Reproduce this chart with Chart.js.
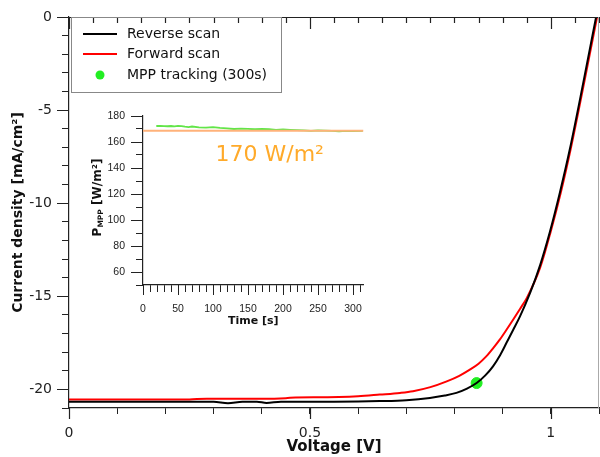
<!DOCTYPE html>
<html>
<head>
<meta charset="utf-8">
<title>J-V curve with MPP tracking</title>
<script src="https://cdn.jsdelivr.net/npm/chart.js@4.4.1/dist/chart.umd.min.js"></script>
<style>
  body { margin: 0; background: #fff; }
  #wrap { position: relative; width: 600px; height: 457px; }
  #mainChart { position: absolute; left: 0; top: 0; }
  #insetChart { position: absolute; left: 80px; top: 100px; }
</style>
</head>
<body>
<div id="wrap">
  <canvas id="mainChart" width="600" height="457"></canvas>
  <canvas id="insetChart" width="290" height="240"></canvas>
</div>
<script>
// reverse scan (black)
var revV = [0, 0.10, 0.20, 0.30, 0.33, 0.36, 0.39, 0.41, 0.44, 0.50, 0.55, 0.60, 0.645, 0.70, 0.749, 0.78, 0.804, 0.826, 0.846, 0.864, 0.880, 0.895, 0.908, 0.922, 0.936, 0.957, 0.978, 0.998, 1.019, 1.04, 1.067, 1.094];
var revJ = [-20.66, -20.66, -20.66, -20.66, -20.74, -20.66, -20.66, -20.73, -20.66, -20.66, -20.66, -20.65, -20.63, -20.58, -20.46, -20.33, -20.19, -19.96, -19.66, -19.25, -18.76, -18.15, -17.5, -16.8, -16.08, -14.82, -13.31, -11.55, -9.41, -7.04, -3.58, 0];
// forward scan (red)
var fwdV = [0, 0.10, 0.20, 0.25, 0.286, 0.35, 0.40, 0.45, 0.47, 0.52, 0.56, 0.60, 0.645, 0.687, 0.714, 0.75, 0.784, 0.81, 0.832, 0.85, 0.866, 0.88, 0.894, 0.908, 0.922, 0.936, 0.95, 0.978, 1.0, 1.021, 1.042, 1.069, 1.096];
var fwdJ = [-20.55, -20.55, -20.55, -20.54, -20.5, -20.5, -20.5, -20.47, -20.43, -20.42, -20.41, -20.37, -20.28, -20.19, -20.1, -19.88, -19.57, -19.27, -18.94, -18.62, -18.23, -17.8, -17.33, -16.8, -16.25, -15.68, -15.1, -13.45, -11.5, -9.4, -7.0, -3.55, 0];
// maximum power point
var mppV = [0.846];
var mppJ = [-19.66];

// inset: MPP tracking over time
var timeS = [19, 25, 30, 35, 40, 45, 50, 55, 60, 65, 70, 80, 90, 100, 110, 120, 130, 140, 150, 160, 170, 180, 190, 200, 210, 220, 230, 240, 250, 260, 270, 280, 290, 300, 314];
var pMpp = [172.3, 172.4, 172.2, 172.1, 172.3, 172.0, 172.4, 172.2, 171.8, 171.5, 171.9, 171.3, 171.0, 171.4, 170.8, 170.5, 170.0, 170.3, 170.1, 169.8, 170.0, 169.9, 169.4, 169.6, 169.3, 169.1, 168.9, 168.6, 168.9, 168.8, 168.5, 168.2, 168.6, 168.4, 168.5];
var refTime = [0, 315];
var refP = [168.7, 168.7];
var refLabel = '170 W/m²';

var seriesNames = ['Reverse scan', 'Forward scan', 'MPP tracking (300s)'];

var FONT = '"DejaVu Sans", Verdana, sans-serif';

function pts(xs, ys) {
  return xs.map(function(x, i) { return {x: x, y: ys[i]}; });
}
function isMult(v, m) {
  return Math.abs(v / m - Math.round(v / m)) < 1e-6;
}
// fixed box sizes, no label overhang padding
function fixH(h) {
  return function(s) { s.height = h; s.paddingLeft = 0; s.paddingRight = 0; };
}
function fixW(w) {
  return function(s) { s.width = w; s.paddingTop = 0; s.paddingBottom = 0; };
}

// extra axis decorations + legend for the main chart
var mainExtras = {
  id: 'mainExtras',
  afterDraw: function(chart) {
    var ctx = chart.ctx, a = chart.chartArea;
    var xs = chart.scales.x, ys = chart.scales.y;
    ctx.save();
    ctx.strokeStyle = '#222';
    ctx.lineWidth = 1.2;
    ctx.beginPath();
    ctx.moveTo(a.left, a.top + 0.5);
    ctx.lineTo(a.right, a.top + 0.5);
    for (var v = 0; v <= 1.1001; v += 0.05) {
      var px = Math.round(xs.getPixelForValue(v)) + 0.5;
      var big = isMult(v, 0.5);
      ctx.moveTo(px, a.top);
      ctx.lineTo(px, a.top + (big ? 12 : 6));
    }
    xs.ticks.forEach(function(t) {
      if (isMult(t.value, 0.5)) {
        var px = Math.round(xs.getPixelForValue(t.value)) + 0.5;
        ctx.moveTo(px, a.bottom);
        ctx.lineTo(px, a.bottom + 11);
      }
    });
    ys.ticks.forEach(function(t) {
      if (isMult(t.value, 5)) {
        var py = Math.round(ys.getPixelForValue(t.value)) + 0.5;
        ctx.moveTo(a.left - 12, py);
        ctx.lineTo(a.left, py);
      }
    });
    ctx.stroke();

    ctx.strokeStyle = '#aaa';
    ctx.lineWidth = 1;
    ctx.beginPath();
    ctx.moveTo(a.right - 0.5, a.top);
    ctx.lineTo(a.right - 0.5, a.bottom);
    ctx.stroke();

    // legend box
    ctx.strokeStyle = '#888';
    ctx.strokeRect(71.5, 17.5, 210, 75);
    var rows = [34, 54, 75];
    ctx.font = '14px ' + FONT;
    ctx.textBaseline = 'middle';
    ctx.textAlign = 'left';
    chart.data.datasets.forEach(function(ds, i) {
      var y = rows[i];
      if (ds.showLine === false) {
        ctx.fillStyle = ds.backgroundColor;
        ctx.beginPath();
        ctx.arc(100, y, 4.5, 0, Math.PI * 2);
        ctx.fill();
      } else {
        ctx.strokeStyle = ds.borderColor;
        ctx.lineWidth = 2;
        ctx.beginPath();
        ctx.moveTo(83, y);
        ctx.lineTo(117, y);
        ctx.stroke();
      }
      ctx.fillStyle = '#111';
      ctx.fillText(ds.label, 127, y);
    });
    ctx.restore();
  }
};

new Chart(document.getElementById('mainChart'), {
  type: 'line',
  data: {
    datasets: [{
      label: seriesNames[0],
      data: pts(revV, revJ),
      borderColor: '#000',
      borderWidth: 2,
      pointRadius: 0,
      cubicInterpolationMode: 'monotone'
    }, {
      label: seriesNames[1],
      data: pts(fwdV, fwdJ),
      borderColor: '#ff0000',
      borderWidth: 2,
      pointRadius: 0,
      cubicInterpolationMode: 'monotone'
    }, {
      label: seriesNames[2],
      data: pts(mppV, mppJ),
      showLine: false,
      backgroundColor: '#22ee22',
      borderColor: '#22ee22',
      pointRadius: 5.5
    }]
  },
  options: {
    responsive: false,
    animation: false,
    layout: { autoPadding: false, padding: { top: 17, right: 1, left: 0, bottom: 0 } },
    plugins: { legend: { display: false }, tooltip: { enabled: false } },
    scales: {
      x: {
        type: 'linear',
        min: 0, max: 1.1,
        afterFit: fixH(49),
        border: { color: '#222', width: 1.2 },
        grid: { drawOnChartArea: false, tickLength: 6, color: '#222' },
        ticks: {
          stepSize: 0.1, autoSkip: false, maxRotation: 0, padding: 11,
          color: '#222', font: { family: FONT, size: 14 },
          callback: function(v) { return isMult(v, 0.5) ? String(Math.round(v * 10) / 10) : ''; }
        },
        title: {
          display: true, text: 'Voltage [V]', color: '#111',
          font: { family: FONT, size: 15, weight: 'bold' },
          padding: { top: 0, bottom: 1 }
        }
      },
      y: {
        min: -21, max: 0,
        afterFit: fixW(69),
        border: { color: '#222', width: 1.2 },
        grid: { drawOnChartArea: false, tickLength: 7, color: '#222' },
        ticks: {
          stepSize: 1, autoSkip: false, padding: 10,
          color: '#222', font: { family: FONT, size: 14 },
          callback: function(v) { return isMult(v, 5) ? String(v) : ''; }
        },
        title: {
          display: true, text: 'Current density [mA/cm²]', color: '#111',
          font: { family: FONT, size: 14, weight: 'bold' },
          padding: { top: 10, bottom: 0 }
        }
      }
    }
  },
  plugins: [mainExtras]
});

// inset decorations
var insetExtras = {
  id: 'insetExtras',
  afterDraw: function(chart) {
    var ctx = chart.ctx, a = chart.chartArea;
    var xs = chart.scales.x, ys = chart.scales.y;
    ctx.save();
    ctx.strokeStyle = '#222';
    ctx.lineWidth = 1;
    ctx.beginPath();
    xs.ticks.forEach(function(t) {
      if (isMult(t.value, 50)) {
        var px = Math.round(xs.getPixelForValue(t.value)) + 0.5;
        ctx.moveTo(px, a.bottom);
        ctx.lineTo(px, a.bottom + 10);
      }
    });
    ys.ticks.forEach(function(t) {
      if (isMult(t.value, 20)) {
        var py = Math.round(ys.getPixelForValue(t.value)) + 0.5;
        ctx.moveTo(a.left - 12, py);
        ctx.lineTo(a.left, py);
      }
    });
    ctx.stroke();

    // y title with subscript
    var parts = [['P', 12, 0], ['MPP', 7.5, 3.5], [' [W/m²]', 12, 0]];
    ctx.translate(18, (a.top + a.bottom) / 2 - 3);
    ctx.rotate(-Math.PI / 2);
    ctx.fillStyle = '#111';
    ctx.textBaseline = 'middle';
    ctx.textAlign = 'left';
    var total = 0;
    parts.forEach(function(p) {
      ctx.font = 'bold ' + p[1] + 'px ' + FONT;
      total += ctx.measureText(p[0]).width;
    });
    var x = -total / 2;
    parts.forEach(function(p) {
      ctx.font = 'bold ' + p[1] + 'px ' + FONT;
      ctx.fillText(p[0], x, p[2]);
      x += ctx.measureText(p[0]).width;
    });
    ctx.restore();

    // reference power label
    ctx.save();
    ctx.fillStyle = '#ffaa2a';
    ctx.font = '22px ' + FONT;
    ctx.textAlign = 'center';
    ctx.textBaseline = 'middle';
    ctx.fillText(refLabel, xs.getPixelForValue(181), ys.getPixelForValue(150));
    ctx.restore();
  }
};

new Chart(document.getElementById('insetChart'), {
  type: 'line',
  data: {
    datasets: [{
      label: 'reference',
      data: pts(refTime, refP),
      borderColor: '#ffb27a',
      borderWidth: 2,
      pointRadius: 0
    }, {
      label: 'MPP',
      data: pts(timeS, pMpp),
      borderColor: 'rgba(70,225,40,0.85)',
      borderWidth: 1.8,
      pointRadius: 0
    }]
  },
  options: {
    responsive: false,
    animation: false,
    layout: { autoPadding: false, padding: { top: 16, right: 6.5, left: 0, bottom: 0 } },
    plugins: { legend: { display: false }, tooltip: { enabled: false } },
    scales: {
      x: {
        type: 'linear',
        min: 0, max: 315,
        afterFit: fixH(55),
        border: { color: '#222', width: 1.2 },
        grid: { drawOnChartArea: false, tickLength: 7, color: '#222' },
        ticks: {
          stepSize: 10, autoSkip: false, maxRotation: 0, padding: 11, includeBounds: false,
          color: '#222', font: { family: '"Liberation Sans", Arial, sans-serif', size: 10.5 },
          callback: function(v) { return isMult(v, 50) ? String(v) : ''; }
        },
        title: {
          display: true, text: 'Time [s]', color: '#111',
          font: { family: FONT, size: 11, weight: 'bold' },
          padding: { top: 0, bottom: 12 }
        }
      },
      y: {
        min: 50, max: 180,
        afterFit: fixW(63),
        border: { color: '#222', width: 1.2 },
        grid: { drawOnChartArea: false, tickLength: 7, color: '#222' },
        ticks: {
          stepSize: 10, autoSkip: false, padding: 11,
          color: '#222', font: { family: '"Liberation Sans", Arial, sans-serif', size: 10.5 },
          callback: function(v) { return isMult(v, 20) ? String(v) : ''; }
        }
      }
    }
  },
  plugins: [insetExtras]
});
</script>
</body>
</html>
